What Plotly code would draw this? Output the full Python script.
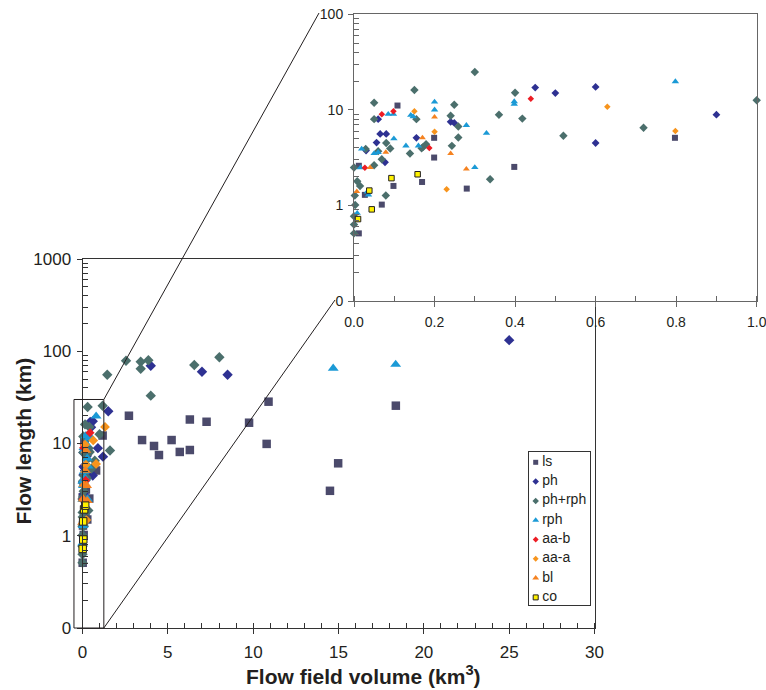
import math
import plotly.graph_objects as go

# ---------------- data ----------------
categories = ["ls", "ph", "ph+rph", "rph", "aa-b", "aa-a", "bl", "co"]

ls_x = [0.012, 0.012, 0.027, 0.069, 0.098, 0.108, 0.169, 0.199, 0.199, 0.28, 0.398, 0.797,
        1.18, 2.72, 3.49, 4.19, 4.48, 5.22, 5.7, 6.29, 6.29, 7.27, 9.76, 10.79, 10.9, 14.5, 14.98, 18.36]
ls_y = [0.51, 2.6, 1.29, 1.02, 1.6, 11.1, 1.76, 5.1, 3.17, 1.5, 2.53, 5.1,
        12.2, 20.0, 10.9, 9.4, 7.5, 10.9, 8.1, 8.5, 18.2, 17.2, 16.8, 9.9, 28.4, 3.07, 6.1, 25.7]

ph_x = [0.03, 0.056, 0.06, 0.065, 0.077, 0.08, 0.155, 0.24, 0.249, 0.45, 0.5, 0.6, 0.6, 0.9,
        1.2, 1.51, 4.0, 7.0, 8.5, 25.0]
ph_y = [3.75, 4.55, 8.0, 5.6, 2.83, 5.6, 5.1, 7.5, 7.3, 17.1, 15.0, 17.4, 4.5, 8.9,
        7.2, 22.4, 69.7, 60.0, 55.7, 132.0]

phrph_x = [0.0, 0.0, 0.0, 0.003, 0.002, 0.008, 0.015, 0.0, 0.029, 0.05, 0.05, 0.05, 0.06, 0.069,
           0.079, 0.08, 0.09, 0.139, 0.15, 0.155, 0.168, 0.172, 0.179, 0.24, 0.243, 0.249, 0.259,
           0.259, 0.3, 0.338, 0.36, 0.4, 0.418, 0.52, 0.719, 1.0,
           1.18, 1.45, 1.61, 2.55, 3.41, 3.41, 3.86, 4.0, 6.55, 8.02]
phrph_y = [0.51, 0.63, 0.77, 1.01, 1.27, 1.79, 1.6, 2.5, 3.9, 2.63, 8.0, 11.9, 3.7, 3.04,
           1.27, 4.5, 3.94, 3.5, 16.1, 8.0, 3.96, 4.1, 4.36, 8.7, 4.2, 11.3, 6.7,
           5.15, 24.9, 1.88, 8.9, 15.1, 8.1, 5.35, 6.5, 12.6,
           25.7, 55.7, 8.4, 79.0, 77.0, 64.6, 80.0, 33.0, 71.0, 86.0]

rph_x = [0.008, 0.016, 0.019, 0.033, 0.036, 0.05, 0.06, 0.085, 0.098, 0.099, 0.129, 0.141,
         0.147, 0.16, 0.2, 0.2, 0.279, 0.3, 0.329, 0.398, 0.398, 0.798, 14.69, 18.35]
rph_y = [0.83, 2.48, 3.9, 1.39, 1.29, 3.5, 3.6, 9.0, 9.0, 5.0, 4.2, 8.8,
         8.5, 4.2, 12.1, 10.0, 6.9, 2.5, 5.7, 12.2, 11.5, 19.8, 65.3, 72.0]

aab_x = [0.027, 0.069, 0.098, 0.187, 0.439]
aab_y = [2.48, 9.0, 9.7, 4.0, 13.1]

aaa_x = [0.15, 0.2, 0.23, 0.629, 0.798, 1.32]
aaa_y = [9.7, 5.9, 1.48, 10.8, 6.0, 15.1]

bl_x = [0.007, 0.04, 0.079, 0.17, 0.2, 0.24, 0.279]
bl_y = [1.4, 2.5, 3.6, 5.1, 8.4, 3.5, 2.4]

co_x = [0.01, 0.038, 0.044, 0.093, 0.158]
co_y = [0.72, 1.43, 0.91, 1.93, 2.12]

main_x_tickvals = [0, 5, 10, 15, 20, 25, 30]
main_y_tickvals = [0.1, 1, 10, 100, 1000]
main_y_ticktext = ["0", "1", "10", "100", "1000"]
inset_y_tickvals = [0.1, 1, 10, 100]
inset_y_ticktext = ["0", "1", "10", "100"]
inset_x_tickvals = [0.0, 0.2, 0.4, 0.6, 0.8, 1.0]
inset_x_ticktext = ["0.0", "0.2", "0.4", "0.6", "0.8", "1.0"]

# ---------------- styling ----------------
W, H = 766, 690
FONT = "Liberation Sans, Arial, Helvetica, sans-serif"
TXT = "#231f20"

xs = [ls_x, ph_x, phrph_x, rph_x, aab_x, aaa_x, bl_x, co_x]
ys = [ls_y, ph_y, phrph_y, rph_y, aab_y, aaa_y, bl_y, co_y]
symbols = ["square", "diamond", "diamond", "triangle-up", "diamond", "diamond", "triangle-up", "square"]
colors = ["#4b4a6b", "#2e3192", "#4b6f6c", "#1b9ad6", "#ed1c24", "#f7941d", "#f58220", "#fff200"]
main_sizes = [8.5, 8, 8, 9.5, 7, 7.5, 9.5, 7.5]
inset_sizes = [6, 6, 6.5, 6.5, 5, 5, 6, 5.5]
legend_sizes = [5, 5, 5, 6, 4.5, 4.5, 6, 5]
line_w = [0, 0, 0, 0, 0, 0, 0, 1]

def px2x(p):
    return p / W

def py2y(p):
    return 1 - p / H

main_dom_x = [px2x(82.5), px2x(594.5)]
main_dom_y = [py2y(628), py2y(259)]
inset_dom_x = [px2x(354), px2x(756.7)]
inset_dom_y = [py2y(301), py2y(14.3)]
leg_dom_x = [px2x(528.7), px2x(590)]
leg_dom_y = [py2y(605.3), py2y(452.3)]

main_xr = [0, 30]
main_yr = [-1, 3]

fig = go.Figure()

for i, name in enumerate(categories):
    fig.add_trace(go.Scatter(
        x=xs[i], y=ys[i], mode="markers", name=name, showlegend=False,
        xaxis="x", yaxis="y", cliponaxis=False,
        marker=dict(symbol=symbols[i], size=main_sizes[i], color=colors[i],
                    line=dict(width=line_w[i], color="#231f20")),
        hoverinfo="x+y+name"))

for i, name in enumerate(categories):
    ix = [x for x, y in zip(xs[i], ys[i]) if x <= 1.0]
    iy = [y for x, y in zip(xs[i], ys[i]) if x <= 1.0]
    fig.add_trace(go.Scatter(
        x=ix, y=iy, mode="markers", name=name, showlegend=False,
        xaxis="x2", yaxis="y2", cliponaxis=False,
        marker=dict(symbol=symbols[i], size=inset_sizes[i], color=colors[i],
                    line=dict(width=line_w[i], color="#231f20")),
        hoverinfo="x+y+name"))

# custom legend (own small subplot)
leg_step = 19.3
leg_pos = [10 + leg_step * i for i in range(len(categories))]
for i, name in enumerate(categories):
    fig.add_trace(go.Scatter(
        x=[7], y=[leg_pos[i]], mode="markers", showlegend=False, hoverinfo="skip",
        xaxis="x5", yaxis="y5", cliponaxis=False,
        marker=dict(symbol=symbols[i], size=legend_sizes[i], color=colors[i],
                    line=dict(width=line_w[i], color="#231f20"))))
fig.add_trace(go.Scatter(
    x=[13.5] * len(categories), y=leg_pos, mode="text", text=categories,
    textposition="middle right", showlegend=False, hoverinfo="skip",
    xaxis="x5", yaxis="y5", cliponaxis=False,
    textfont=dict(family=FONT, size=14, color=TXT)))

def minor_log(lo, hi):
    vals = []
    for d in range(lo, hi):
        for k in range(2, 10):
            vals.append(k * 10 ** d)
    return vals

ax_common = dict(showgrid=False, zeroline=False, fixedrange=True, automargin=False)

fig.update_layout(
    template="none",
    width=W, height=H, margin=dict(l=0, r=0, t=0, b=0, pad=0), autosize=False,
    paper_bgcolor="white", plot_bgcolor="white",
    font=dict(family=FONT, color=TXT),
    showlegend=False,
    xaxis=dict(domain=main_dom_x, range=main_xr, anchor="y", tickmode="array",
               tickvals=main_x_tickvals, ticks="outside", ticklen=5,
               tickcolor="#333", showline=True, linecolor="#333", linewidth=1,
               mirror=True, tickfont=dict(size=17, color=TXT), ticklabelstandoff=4,
               ticklabeloverflow="allow",
               minor=dict(dtick=1, tick0=0, ticks="inside", ticklen=5, tickcolor="#333"),
               **ax_common),
    yaxis=dict(domain=main_dom_y, range=main_yr, type="log", anchor="x", tickmode="array",
               tickvals=main_y_tickvals, ticktext=main_y_ticktext, ticks="outside",
               ticklen=5, tickcolor="#333", showline=True, linecolor="#333", linewidth=1,
               mirror=True, tickfont=dict(size=17, color=TXT), ticklabelstandoff=2,
               ticklabeloverflow="allow",
               minor=dict(tickvals=minor_log(-1, 3), ticks="inside", ticklen=5, tickcolor="#333"),
               **ax_common),
    xaxis3=dict(overlaying="x", anchor="y", range=main_xr, tickmode="array",
                tickvals=main_x_tickvals, ticks="inside", ticklen=5,
                tickcolor="#333", showticklabels=False, showline=False, **ax_common),
    yaxis3=dict(overlaying="y", anchor="x", range=main_yr, type="log", tickmode="array",
                tickvals=main_y_tickvals, ticks="inside", ticklen=5, tickcolor="#333",
                showticklabels=False, showline=False, **ax_common),
    xaxis2=dict(domain=inset_dom_x, range=[0, 1.0], anchor="y2", tickmode="array",
                tickvals=inset_x_tickvals, ticktext=inset_x_ticktext, ticks="outside",
                ticklen=5, tickcolor="#666", showline=True, linecolor="#666", linewidth=1,
                mirror=True, tickfont=dict(size=14, color=TXT), ticklabelstandoff=3,
                ticklabeloverflow="allow",
                minor=dict(dtick=0.1, tick0=0, ticks="inside", ticklen=5, tickcolor="#666"),
                **ax_common),
    yaxis2=dict(domain=inset_dom_y, range=[-1, 2], type="log", anchor="x2", tickmode="array",
                tickvals=inset_y_tickvals, ticktext=inset_y_ticktext, ticks="outside",
                ticklen=5, tickcolor="#666", showline=True, linecolor="#666", linewidth=1,
                mirror=True, tickfont=dict(size=14, color=TXT), ticklabelstandoff=2,
                ticklabeloverflow="allow",
                minor=dict(tickvals=minor_log(-1, 2), ticks="inside", ticklen=5, tickcolor="#666"),
                **ax_common),
    xaxis4=dict(overlaying="x2", anchor="y2", range=[0, 1.0], tickmode="array",
                tickvals=inset_x_tickvals, ticks="inside", ticklen=5, tickcolor="#666",
                showticklabels=False, showline=False, **ax_common),
    yaxis4=dict(overlaying="y2", anchor="x2", range=[-1, 2], type="log", tickmode="array",
                tickvals=inset_y_tickvals, ticks="inside", ticklen=5, tickcolor="#666",
                showticklabels=False, showline=False, **ax_common),
    xaxis5=dict(domain=leg_dom_x, range=[0, 61.3], anchor="y5", showticklabels=False,
                ticks="", showline=True, mirror=True, linecolor="#333", linewidth=1, **ax_common),
    yaxis5=dict(domain=leg_dom_y, range=[153, 0], anchor="x5", showticklabels=False,
                ticks="", showline=True, mirror=True, linecolor="#333", linewidth=1, **ax_common),
)

# axis titles
fig.add_annotation(text="<b>Flow length (km)</b>", xref="paper", yref="paper",
                   x=px2x(23), y=py2y(441.5), textangle=-90, showarrow=False,
                   font=dict(family=FONT, size=21, color=TXT), xanchor="center", yanchor="middle")
fig.add_annotation(text="<b>Flow field volume (km<sup>3</sup>)</b>", xref="paper", yref="paper",
                   x=px2x(363), y=py2y(675), showarrow=False,
                   font=dict(family=FONT, size=21, color=TXT), xanchor="center", yanchor="middle")

# zoom box on main plot and connector lines to the inset
box_x = [-0.5, 1.25]
box_y = [0.1, 30]

def mx(v):
    return main_dom_x[0] + (v - main_xr[0]) / (main_xr[1] - main_xr[0]) * (main_dom_x[1] - main_dom_x[0])

def my(v):
    return main_dom_y[0] + (math.log10(v) - main_yr[0]) / (main_yr[1] - main_yr[0]) * (main_dom_y[1] - main_dom_y[0])

line_style = dict(color="#231f20", width=1)
fig.add_shape(type="rect", xref="paper", yref="paper", x0=mx(box_x[0]), x1=mx(box_x[1]),
              y0=my(box_y[0]), y1=my(box_y[1]), line=line_style, layer="above")
fig.add_shape(type="line", xref="paper", yref="paper", x0=mx(box_x[1]), y0=my(box_y[1]),
              x1=px2x(319), y1=py2y(13), line=line_style, layer="above")
fig.add_shape(type="line", xref="paper", yref="paper", x0=mx(box_x[1]), y0=my(box_y[0]),
              x1=px2x(335), y1=py2y(300), line=line_style, layer="above")

fig.write_html("out.html", config={"displayModeBar": False},
               post_script="document.body.style.margin='0px';document.body.style.overflow='hidden';")
